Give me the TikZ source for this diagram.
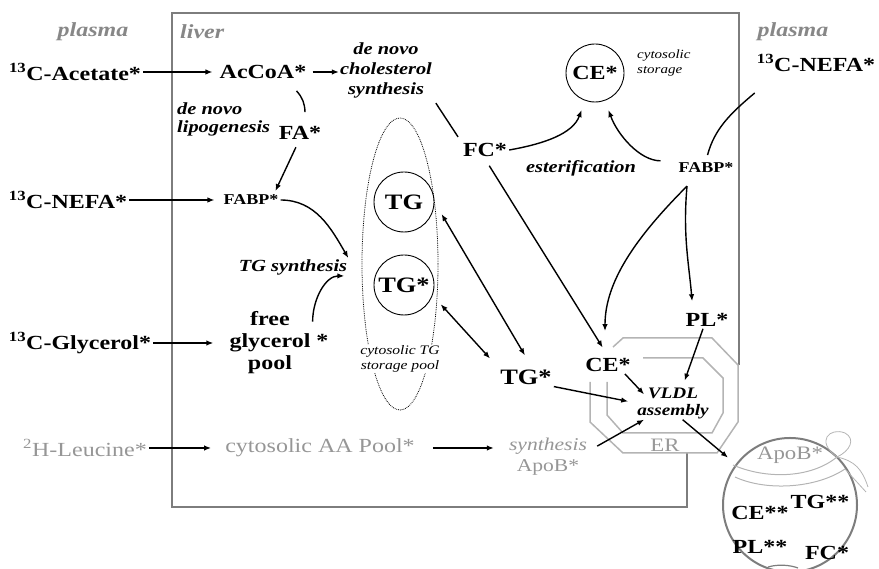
\documentclass[tikz,border=0pt]{standalone}
\usepackage{fontspec}
\setmainfont[FakeStretch=1.2]{Liberation Serif}
\usetikzlibrary{arrows.meta,shapes.geometric}
\definecolor{plasmagrey}{RGB}{135,135,135}
\definecolor{leugrey}{RGB}{150,150,150}
\definecolor{ergrey}{RGB}{180,180,180}
\definecolor{boxgrey}{RGB}{125,125,125}

\begin{document}
\begin{tikzpicture}[x=1pt,y=1pt,
    lbl/.style={font=\bfseries\fontsize{20}{22}\selectfont, inner sep=2pt},
    proc/.style={font=\bfseries\itshape\fontsize{17}{20}\selectfont, inner sep=1pt, align=center},
    greylbl/.style={font=\fontsize{20}{22}\selectfont, text=leugrey, inner sep=2pt},
    region/.style={font=\bfseries\itshape\fontsize{20}{22}\selectfont, text=plasmagrey, inner sep=2pt},
    note/.style={font=\itshape\fontsize{13}{15}\selectfont, align=left, inner sep=1pt},
    pool/.style={circle, draw, line width=0.9pt, minimum size=60pt, inner sep=0pt},
    arr/.style={-{Latex[length=7pt,width=5.5pt]}, line width=1.4pt},
    link/.style={line width=1.4pt},
    duo/.style={{Latex[length=7pt,width=5.5pt]}-{Latex[length=7pt,width=5.5pt]}, line width=1.4pt},
    ribbon/.style={ergrey, line width=1pt}]

\useasboundingbox (0,0) rectangle (879,569);

% liver box and ER
\draw[boxgrey, line width=1.5pt] (687,116) -- (687,62) -- (172,62) -- (172,556) -- (739,556) -- (739,204);
\draw[ergrey, line width=1.5pt] (613,222) -- (623,231) -- (712,231) -- (738,204) -- (738,147) -- (717,116) -- (623,116) -- (590,147) -- (590,187);
\draw[ergrey, line width=1.5pt] (643,211) -- (703,211) -- (723,191) -- (723,156) -- (712,136) -- (623,136) -- (607,154) -- (607,187);
\node[font=\fontsize{19}{21}\selectfont, text=ergrey!85!black] (erlab) at (665,124) {ER};

% cytosolic TG storage
\node[ellipse, draw, densely dotted, line width=0.8pt, minimum width=76pt, minimum height=292pt] (tgpool) at (400,305) {};
\node[pool] (tgA) at (404,367) {\bfseries\fontsize{22}{24}\selectfont TG};
\node[pool] (tgB) at (404,284) {\bfseries\fontsize{22}{24}\selectfont TG*};
\node[note, align=center, fill=white] (poollab) at (400,210) {cytosolic TG\\storage pool};

% compartments
\node[region] (plasmaL) at (93,537) {plasma};
\node[region, anchor=west] (liver) at (178,537) {liver};
\node[region] (plasmaR) at (793,537) {plasma};

% tracers
\node[lbl] (acetate) at (75,497) {\textsuperscript{13}C-Acetate*};
\node[lbl] (nefaL) at (68,369) {\textsuperscript{13}C-NEFA*};
\node[lbl] (glycerol) at (80,226) {\textsuperscript{13}C-Glycerol*};
\node[greylbl] (leucine) at (85,121) {\textsuperscript{2}H-Leucine*};
\node[lbl] (nefaR) at (816,506) {\textsuperscript{13}C-NEFA*};

% liver pools
\node[lbl] (accoa) at (263,497) {AcCoA*};
\node[proc] (chol) at (386,499) {de novo\\cholesterol\\synthesis};
\node[proc, align=left, anchor=west, font=\bfseries\itshape\fontsize{17}{18}\selectfont] (lipo) at (176,450) {de novo\\lipogenesis};
\node[lbl] (fa) at (300,436) {FA*};
\node[lbl, font=\bfseries\fontsize{15}{17}\selectfont] (fabpL) at (251,369) {FABP*};
\node[proc] (tgsyn) at (293,302) {TG synthesis};
\node[lbl, align=center] (freepool) at (270,226) {free\\glycerol\rlap{\ *}\\pool};
\node[greylbl] (aapool) at (320,121) {cytosolic AA Pool*};
\node[greylbl, align=center, font=\fontsize{18}{21}\selectfont] (apobsyn) at (548,112) {\textit{synthesis}\\ApoB*};
\node[lbl] (fc) at (485,419) {FC*};
\node[pool, minimum size=58pt, font=\bfseries\fontsize{20}{22}\selectfont] (cestore) at (595,496) {CE*};
\node[note, anchor=west, font=\itshape\fontsize{12.5}{15}\selectfont] (cytstore) at (636,506) {cytosolic\\storage};
\node[proc] (ester) at (581,401) {esterification};
\node[lbl, font=\bfseries\fontsize{15}{17}\selectfont] (fabpR) at (706,401) {FABP*};
\node[lbl, font=\bfseries\fontsize{22}{24}\selectfont] (tgout) at (526,192) {TG*};
\node[lbl] (ceer) at (608,204) {CE*};
\node[lbl] (plout) at (707,249) {PL*};
\node[proc, font=\bfseries\itshape\fontsize{16}{17}\selectfont] (vldl) at (673,166) {VLDL\\assembly};

% VLDL particle
\node[circle, draw=boxgrey, line width=2pt, minimum size=134pt] (particle) at (790,64) {};
\draw[ribbon] (733,104) .. controls (765,90) and (810,90) .. (837,112);
\draw[ribbon] (735,92) .. controls (765,78) and (815,80) .. (845,100);
\draw[ribbon, line width=0.8pt] (837,112) .. controls (815,128) and (830,142) .. (845,136) .. controls (856,130) and (850,118) .. (837,112);
\draw[ribbon, line width=0.8pt] (837,112) .. controls (855,108) and (862,100) .. (868,82);
\draw[ribbon, line width=0.8pt] (845,100) -- (866,77);
\draw[boxgrey, line width=1.2pt] (768,2) .. controls (778,5) and (790,4) .. (798,1);
\node[font=\fontsize{19}{21}\selectfont, text=leugrey] (apob) at (790,114) {ApoB*};
\node[lbl] (ce2) at (760,56) {CE**};
\node[lbl] (tg2) at (820,67) {TG**};
\node[lbl] (pl2) at (760,22) {PL**};
\node[lbl] (fc2) at (827,16) {FC*};

% uptake
\draw[arr, shorten >=5pt] (acetate) -- (accoa);
\draw[arr, shorten >=7pt] (nefaL) -- (fabpL);
\draw[arr, shorten >=14pt] (glycerol) -- (glycerol -| freepool.west);
\draw[arr, shorten >=12pt] (leucine) -- (aapool);
\draw[arr, shorten <=16pt, shorten >=13pt] (aapool) -- (aapool -| apobsyn.west);

% synthesis
\draw[arr, shorten <=4pt] (accoa) -- (accoa -| chol.west);
\draw[link] ([xshift=-12pt,yshift=-10pt]accoa.south east) to[bend left=20] ([xshift=5pt,yshift=12pt]fa.north);
\draw[arr, shorten <=6pt, shorten >=2pt] (fa.-100) -- ([xshift=-6pt]fabpL.north east);
\draw[arr] (fabpL.east) to[out=0, in=120] (tgsyn.north east);
\draw[arr, shorten >=4pt] ([yshift=-12pt]freepool.north east) to[out=90, in=180] (tgsyn.south east);
\draw[link, shorten <=5pt, shorten >=5pt] (chol.south east) -- (fc.north west);
\draw[link, shorten >=6pt] ([yshift=-30pt]nefaR.west) to[out=220, in=75] (fabpR.north);

% esterification
\draw[arr, shorten >=10pt] (fc.east) to[out=10, in=-110] (cestore.-110);
\draw[arr, shorten <=16pt, shorten >=10pt] (fabpR.north west) to[out=180, in=-70] (cestore.-70);
\draw[arr, shorten <=8pt, shorten >=10pt] (fc.south) -- (ceer.north);
\draw[arr, shorten >=25pt] ([xshift=-19pt,yshift=-11pt]fabpR.south) to[out=225, in=90] ([xshift=-3pt]ceer.north);
\draw[arr, shorten >=10pt] ([xshift=-19pt,yshift=-11pt]fabpR.south) to[out=-95, in=95] ([xshift=-14pt]plout.north);

% TG exchange
\draw[duo, shorten <=14pt, shorten >=14pt] (tgA.0) -- ([xshift=6pt]tgout.north);
\draw[duo, shorten <=12pt, shorten >=12pt] (tgB.-20) -- (tgout.north west);

% VLDL assembly
\draw[arr, shorten >=6pt] ([xshift=-4pt]plout.south) -- (vldl.60);
\draw[arr] ([xshift=-8pt]ceer.south east) -- ([xshift=8pt,yshift=-8pt]vldl.north west);
\draw[arr, shorten >=8pt] (tgout.south east) -- (vldl.west);
\draw[arr] ([xshift=8pt,yshift=-10pt]apobsyn.north east) -- ([xshift=8pt]vldl.south west);
\draw[arr, shorten >=10pt] (vldl.-60) -- (particle.143);
\end{tikzpicture}
\end{document}
